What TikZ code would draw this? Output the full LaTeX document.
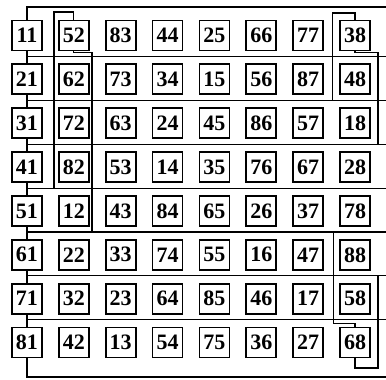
\documentclass[tikz,border=0pt]{standalone}
\usepackage{fontspec}
\setmainfont{Liberation Serif}
\usepackage{tikz}

\tikzset{
  cell/.style={draw, fill=white, line width=1.7pt, minimum width=30pt,
    minimum height=30pt, inner sep=0pt,
    font=\fontsize{22}{22}\selectfont\bfseries},
  wire/.style={line width=1.1pt}
}

\begin{document}
\begin{tikzpicture}[x=46.86pt, y=-43.86pt]
    \useasboundingbox (0.424,0.191) rectangle (8.661,8.832);
    % the cells, row by row
    \foreach \r/\row in {1/{11,52,83,44,25,66,77,38},
                         2/{21,62,73,34,15,56,87,48},
                         3/{31,72,63,24,45,86,57,18},
                         4/{41,82,53,14,35,76,67,28},
                         5/{51,12,43,84,65,26,37,78},
                         6/{61,22,33,74,55,16,47,88},
                         7/{71,32,23,64,85,46,17,58},
                         8/{81,42,13,54,75,36,27,68}} {
        \foreach \v [count=\c] in \row {
            \node[cell] (n\v) at (\c,\r) {\v};
        }
    }
    \coordinate (topR) at (8.661,0.35);
    \coordinate (botR) at (8.661,8.786);
    % left spine with top and bottom rails
    \draw[wire] (topR) -| (n11.north);
    \foreach \a/\b in {11/21,21/31,31/41,41/51,51/61,61/71,71/81} {
        \draw[wire] (n\a.south) -- (n\b.north);
    }
    \draw[wire] (n81.south) |- (botR);
    % row separators
    \foreach \k in {1,...,7} {
        \draw[wire] (1,\k+0.48) -- (8.661,\k+0.48);
    }
    % loops round 52, 38 and 68
    \draw[wire] (n52.north) |- (1.576,0.464) -- (1.576,4.48);
    \draw[wire] (n52.south) |- (2.387,1.39) -- (2.387,5.48);
    \draw[wire] (n38.north) |- (7.52,0.487) -- (7.52,2.48);
    \draw[wire] (n38.south) |- (8.49,1.39) -- (8.49,3.48);
    \draw[wire] (n68.north) |- (7.55,7.56) -- (7.55,5.48);
    \draw[wire] (n68.south) |- (8.49,8.58) -- (8.49,6.48);
\end{tikzpicture}
\end{document}
